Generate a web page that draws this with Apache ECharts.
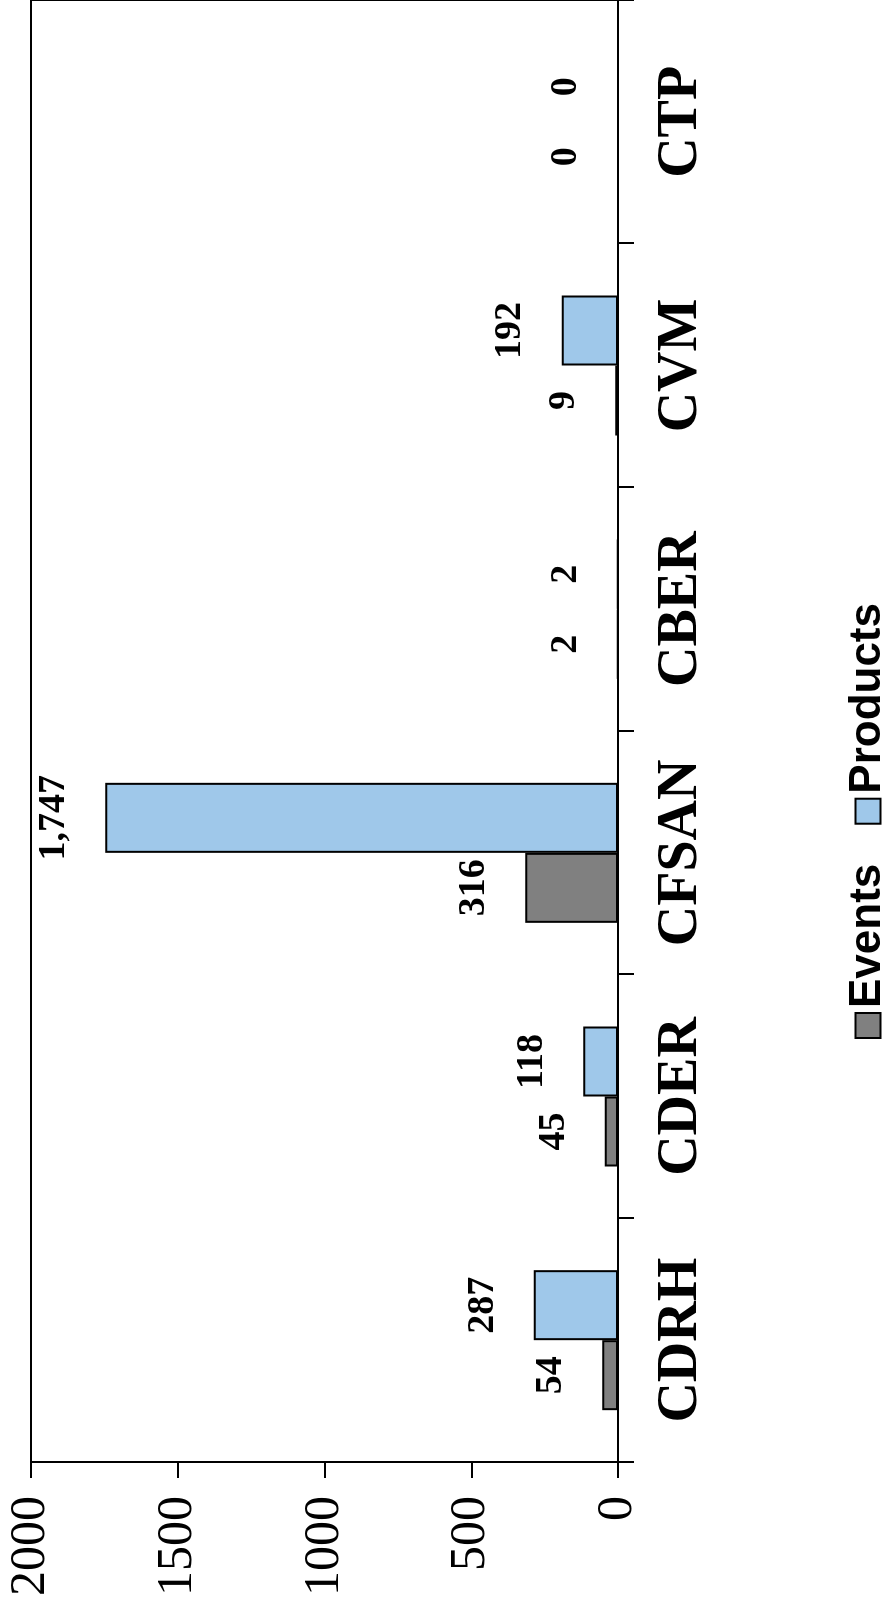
<!DOCTYPE html>
<html>
<head>
<meta charset="utf-8">
<script src="https://cdn.jsdelivr.net/npm/echarts@6/dist/echarts.min.js"></script>
<style>
  html, body { margin: 0; padding: 0; width: 887px; height: 1619px; overflow: hidden; background: #fff; }
  #chart {
    position: absolute; left: 0; top: 0;
    width: 1619px; height: 887px;
    transform-origin: 0 0;
    transform: translateY(1619px) rotate(-90deg);
  }
</style>
</head>
<body>
<div id="chart"></div>
<script>
const categories = ['CDRH', 'CDER', 'CFSAN', 'CBER', 'CVM', 'CTP'];
const eventsValues = [54, 45, 316, 2, 9, 0];
const productsValues = [287, 118, 1747, 2, 192, 0];
const valueTicks = [0, 500, 1000, 1500, 2000];

const chart = echarts.init(document.getElementById('chart'), null, { renderer: 'canvas' });

const labelStyle = {
  show: true,
  position: 'top',
  distance: 32,
  color: '#000',
  fontFamily: '"Liberation Serif", "Times New Roman", serif',
  fontWeight: 'bold',
  fontSize: 38,
  formatter: p => Number(p.value).toLocaleString('en-US')
};

chart.setOption({
  animation: false,
  backgroundColor: '#fff',
  grid: {
    left: 157, right: -4, top: 31, bottom: 269,
    show: true, borderColor: '#000', borderWidth: 2, backgroundColor: 'transparent'
  },
  legend: {
    left: 575, top: 841,
    itemWidth: 25, itemHeight: 25, itemGap: 39,
    icon: 'rect',
    textStyle: {
      fontFamily: '"Liberation Sans", Arial, sans-serif',
      fontWeight: 'bold', fontSize: 44, color: '#000'
    },
    data: ['Events', 'Products']
  },
  xAxis: {
    type: 'category',
    data: categories,
    axisLine: { lineStyle: { color: '#000', width: 2 } },
    axisTick: { show: true, length: 16, lineStyle: { color: '#000', width: 2 } },
    axisLabel: {
      margin: 36,
      color: '#000',
      fontFamily: '"Liberation Serif", "Times New Roman", serif',
      fontWeight: 'bold',
      fontSize: 56
    },
    splitLine: { show: false }
  },
  yAxis: {
    type: 'value',
    min: valueTicks[0], max: valueTicks[valueTicks.length - 1], interval: 500,
    axisLine: { show: true, lineStyle: { color: '#000', width: 2 } },
    axisTick: { show: true, length: 16, lineStyle: { color: '#000', width: 2 } },
    axisLabel: {
      margin: 34,
      color: '#000',
      fontFamily: '"Liberation Serif", "Times New Roman", serif',
      fontSize: 50,
      formatter: v => String(v)
    },
    splitLine: { show: false }
  },
  series: [
    {
      name: 'Events', type: 'bar', data: eventsValues,
      barWidth: 70, barGap: '0%',
      itemStyle: { color: '#808080', borderColor: '#000', borderWidth: 2 },
      label: labelStyle
    },
    {
      name: 'Products', type: 'bar', data: productsValues,
      barWidth: 70, barGap: '0%',
      itemStyle: { color: '#9fc8ea', borderColor: '#000', borderWidth: 2 },
      label: labelStyle
    }
  ]
});
</script>
</body>
</html>
